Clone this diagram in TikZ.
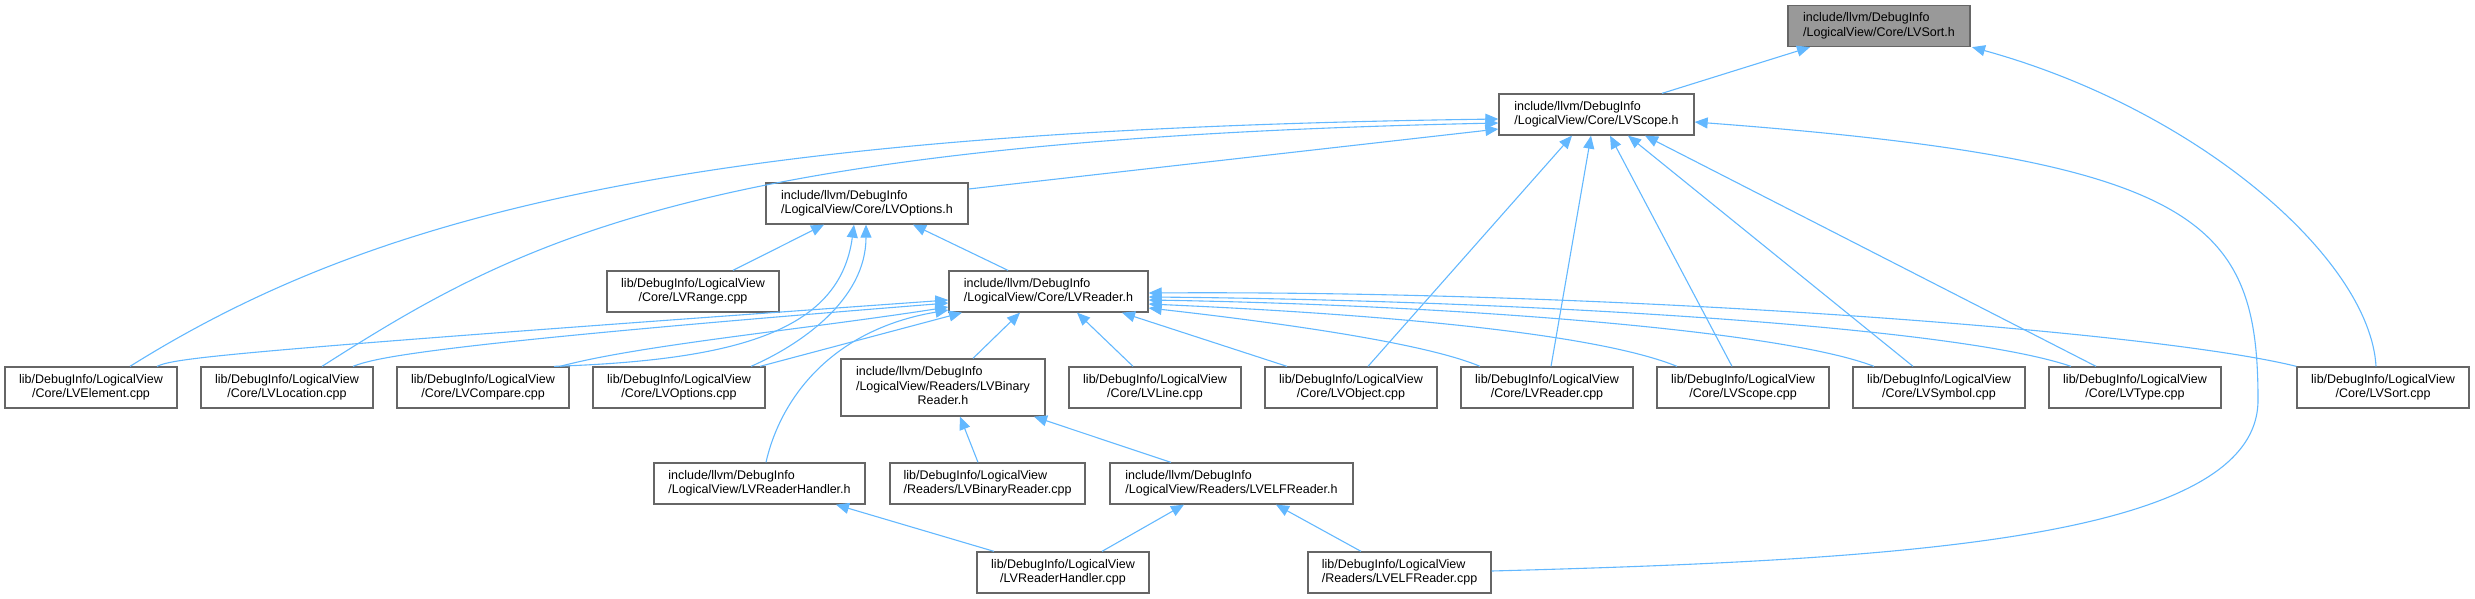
\documentclass[tikz,border=0pt]{standalone}
\usepackage{fontspec}
\setmainfont{Liberation Sans}
\usetikzlibrary{arrows.meta,calc}
\definecolor{edgeblue}{HTML}{63B8FF}
\definecolor{boxgray}{HTML}{666666}
\definecolor{rootgray}{HTML}{999999}
\tikzset{
  box/.style={draw=boxgray, line width=1.3pt, fill=white, inner sep=0pt,
    minimum height=41pt, font=\fontsize{12.5}{14.5}\selectfont},
  lbox/.style={box, align=left},
  cbox/.style={box, align=center, minimum width=172pt},
  edge/.style={draw=edgeblue, line width=1.1pt, -{Triangle[length=13pt,width=11pt]}},
}
\begin{document}
\begin{tikzpicture}[x=1pt,y=-1pt]
\useasboundingbox (0,0) rectangle (2475,598);
% row 0
\node[lbox, fill=rootgray, minimum width=182pt] (sorth) at (1879,26) {include/llvm/DebugInfo\\/LogicalView/Core/LVSort.h};
% row 1
\node[lbox, minimum width=195pt] (scopeh) at (1596.5,114.5) {include/llvm/DebugInfo\\/LogicalView/Core/LVScope.h};
% row 2
\node[lbox, minimum width=202pt] (optionsh) at (867,203.5) {include/llvm/DebugInfo\\/LogicalView/Core/LVOptions.h};
% row 3
\node[cbox] (range) at (693,291.5) {lib/DebugInfo/LogicalView\\/Core/LVRange.cpp};
\node[lbox, minimum width=199pt] (readerh) at (1048.5,291.5) {include/llvm/DebugInfo\\/LogicalView/Core/LVReader.h};
% row 4
\node[cbox] (element) at (91,387.5) {lib/DebugInfo/LogicalView\\/Core/LVElement.cpp};
\node[cbox] (location) at (287,387.5) {lib/DebugInfo/LogicalView\\/Core/LVLocation.cpp};
\node[cbox] (compare) at (483,387.5) {lib/DebugInfo/LogicalView\\/Core/LVCompare.cpp};
\node[cbox] (optionscpp) at (679,387.5) {lib/DebugInfo/LogicalView\\/Core/LVOptions.cpp};
\node[box, minimum width=204pt, minimum height=57pt] (binh) at (943,387.5) {\begin{tabular}{@{}l@{}}include/llvm/DebugInfo\\/LogicalView/Readers/LVBinary\\\multicolumn{1}{@{}c@{}}{Reader.h}\end{tabular}};
\node[cbox] (line) at (1155,387.5) {lib/DebugInfo/LogicalView\\/Core/LVLine.cpp};
\node[cbox] (object) at (1351,387.5) {lib/DebugInfo/LogicalView\\/Core/LVObject.cpp};
\node[cbox] (readercpp) at (1547,387.5) {lib/DebugInfo/LogicalView\\/Core/LVReader.cpp};
\node[cbox] (scopecpp) at (1743,387.5) {lib/DebugInfo/LogicalView\\/Core/LVScope.cpp};
\node[cbox] (symbol) at (1939,387.5) {lib/DebugInfo/LogicalView\\/Core/LVSymbol.cpp};
\node[cbox] (type) at (2135,387.5) {lib/DebugInfo/LogicalView\\/Core/LVType.cpp};
\node[cbox] (sortcpp) at (2383,387.5) {lib/DebugInfo/LogicalView\\/Core/LVSort.cpp};
% row 5
\node[lbox, minimum width=211pt] (handlerh) at (759.5,483.5) {include/llvm/DebugInfo\\/LogicalView/LVReaderHandler.h};
\node[lbox, minimum width=195pt] (bincpp) at (987.5,483.5) {lib/DebugInfo/LogicalView\\/Readers/LVBinaryReader.cpp};
\node[lbox, minimum width=243pt] (elfh) at (1231.5,483.5) {include/llvm/DebugInfo\\/LogicalView/Readers/LVELFReader.h};
% row 6
\node[cbox] (handlercpp) at (1063,572.5) {lib/DebugInfo/LogicalView\\/LVReaderHandler.cpp};
\node[lbox, minimum width=183pt] (elfcpp) at (1399.5,572.5) {lib/DebugInfo/LogicalView\\/Readers/LVELFReader.cpp};

% edges to LVSort.h
\draw[edge] (scopeh.north -| 1662,0) -- (sorth.south -| 1810,0);
\draw[edge] (sortcpp.north -| 2376,0) .. controls (2370,260) and (2200,110) .. (sorth.south -| 1972,0);
% edges to LVScope.h
\draw[edge] (optionsh.east |- 0,189) -- (scopeh.west |- 0,129);
\draw[edge] (element.north -| 130,0) .. controls (380,210) and (700,130) .. (scopeh.west |- 0,119);
\draw[edge] (location.north -| 322,0) .. controls (520,240) and (700,140) .. (scopeh.west |- 0,123);
\draw[edge] (object.north -| 1368,0) -- (scopeh.south -| 1572,0);
\draw[edge] (readercpp.north -| 1551,0) -- (scopeh.south -| 1591,0);
\draw[edge] (scopecpp.north -| 1732,0) -- (scopeh.south -| 1610,0);
\draw[edge] (symbol.north -| 1913,0) -- (scopeh.south -| 1628,0);
\draw[edge] (type.north -| 2096,0) -- (scopeh.south -| 1645,0);
\draw[edge] (elfcpp.east |- 0,571) .. controls (1900,560) and (2258,540) .. (2258,400)
   .. controls (2258,220) and (2200,160) .. (scopeh.east |- 0,122);
% edges to LVOptions.h
\draw[edge] (range.north -| 733,0) -- (optionsh.south -| 824,0);
\draw[edge] (readerh.north -| 1008,0) -- (optionsh.south -| 913,0);
\draw[edge] (compare.north -| 554,0) .. controls (740,360) and (840,330) .. (optionsh.south -| 854,0);
\draw[edge] (optionscpp.north -| 751,0) .. controls (800,345) and (866,300) .. (optionsh.south -| 866,0);
% edges to LVReader.h
\draw[edge] (element.north -| 157,0) .. controls (175,358) and (220,352) .. (readerh.west |- 0,300);
\draw[edge] (location.north -| 353,0) .. controls (375,358) and (420,345) .. (readerh.west |- 0,303);
\draw[edge] (compare.north -| 560,0) .. controls (640,345) and (800,330) .. (readerh.west |- 0,307);
\draw[edge] (optionscpp.north -| 760,0) -- (readerh.south -| 962,0);
\draw[edge] (handlerh.north -| 766,0) .. controls (780,400) and (830,330) .. (readerh.west |- 0,310);
\draw[edge] (binh.north -| 973,0) -- (readerh.south -| 1020,0);
\draw[edge] (line.north -| 1133,0) -- (readerh.south -| 1077,0);
\draw[edge] (object.north -| 1287,0) -- (readerh.south -| 1122,0);
\draw[edge] (readercpp.north -| 1480,0) .. controls (1430,345) and (1300,325) .. (readerh.east |- 0,308);
\draw[edge] (scopecpp.north -| 1677,0) .. controls (1600,335) and (1400,315) .. (readerh.east |- 0,304);
\draw[edge] (symbol.north -| 1874,0) .. controls (1780,330) and (1450,305) .. (readerh.east |- 0,300);
\draw[edge] (type.north -| 2071,0) .. controls (1950,325) and (1500,300) .. (readerh.east |- 0,297);
\draw[edge] (sortcpp.north west) .. controls (2150,330) and (1600,290) .. (readerh.east |- 0,293);
% lower edges
\draw[edge] (bincpp.north -| 978,0) -- (binh.south -| 960,0);
\draw[edge] (elfh.north -| 1171,0) -- (binh.south -| 1034,0);
\draw[edge] (handlercpp.north -| 994,0) -- (handlerh.south -| 836,0);
\draw[edge] (handlercpp.north -| 1102,0) -- (elfh.south -| 1184,0);
\draw[edge] (elfcpp.north -| 1361,0) -- (elfh.south -| 1276,0);
\end{tikzpicture}
\end{document}
